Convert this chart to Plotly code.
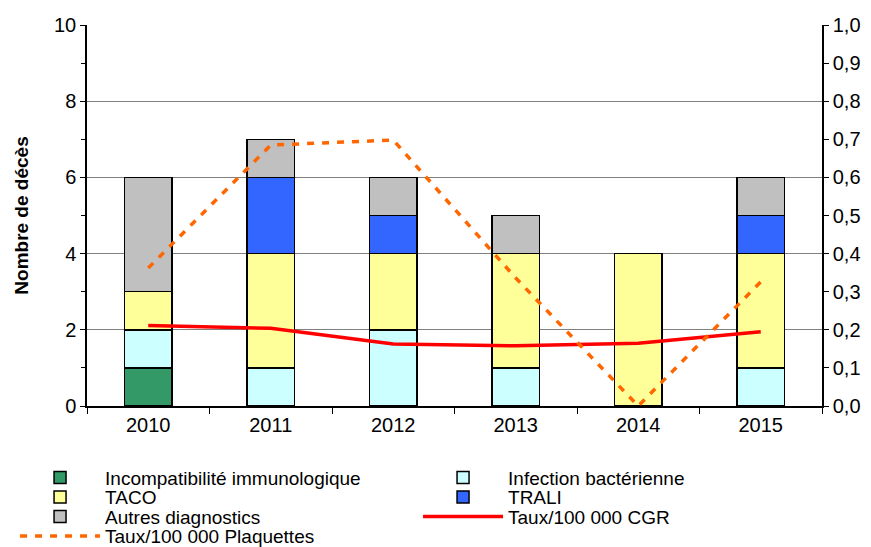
import plotly.graph_objects as go

years = ["2010", "2011", "2012", "2013", "2014", "2015"]
incompat = [1, 0, 0, 0, 0, 0]
infection = [1, 1, 2, 1, 0, 1]
taco = [1, 3, 2, 3, 4, 3]
trali = [0, 2, 1, 0, 0, 1]
autres = [3, 1, 1, 1, 0, 1]
taux_cgr = [0.211, 0.204, 0.163, 0.158, 0.165, 0.195]
taux_plaq = [0.362, 0.685, 0.698, 0.336, 0.0, 0.326]

FONT = "Liberation Sans, Arial, sans-serif"

fig = go.Figure()
bar_specs = [
    ("Incompatibilité immunologique", incompat, "#339966", "legend"),
    ("Infection bactérienne", infection, "#CCFFFF", "legend"),
    ("TACO", taco, "#FFFF99", "legend2"),
    ("TRALI", trali, "#3366FF", "legend2"),
    ("Autres diagnostics", autres, "#C0C0C0", "legend3"),
]
for name, vals, col, lg in bar_specs:
    fig.add_trace(go.Bar(
        x=years, y=vals, name=name, width=0.39,
        marker=dict(color=col, line=dict(color="black", width=1.5)),
        legend=lg,
    ))

fig.add_trace(go.Scatter(
    x=years, y=taux_cgr, name="Taux/100 000 CGR", yaxis="y2",
    mode="lines", line=dict(color="#FF0000", width=3.5), legend="legend3",
))
fig.add_trace(go.Scatter(
    x=years, y=taux_plaq, name="Taux/100 000 Plaquettes", yaxis="y2",
    mode="lines", line=dict(color="#FF6600", width=3.5, dash="7px,8px"), legend="legend4",
))

LEG_FONT = 19


def row_legend(ypos):
    return dict(
        x=-0.0979, xanchor="left", y=ypos, yanchor="top",
        orientation="h", traceorder="normal", itemwidth=80,
        entrywidth=308, entrywidthmode="pixels",
        font=dict(size=LEG_FONT), bgcolor="rgba(0,0,0,0)",
    )


# page body has an 8px margin: figure is drawn 8px right/down of the window origin
fig.update_layout(
    width=863, height=539,
    margin=dict(l=79, r=49, t=17, b=141, autoexpand=False),
    barmode="stack",
    plot_bgcolor="white", paper_bgcolor="white",
    separators=", ",
    font=dict(family=FONT, size=20, color="black"),
    xaxis=dict(
        type="category", range=[-0.5, 5.5],
        showline=True, linecolor="black", linewidth=1.5,
        ticks="outside", ticklen=6, tickcolor="black", tickson="boundaries",
        showgrid=False, tickfont=dict(size=20),
    ),
    yaxis=dict(
        range=[0, 10.001], tick0=0, dtick=2,
        showline=True, linecolor="black", linewidth=1.5,
        ticks="outside", ticklen=5, tickcolor="black",
        minor=dict(dtick=1, ticks="outside", ticklen=4, tickcolor="black", showgrid=False),
        showgrid=True, gridcolor="#808080", gridwidth=1,
        zeroline=False, tickfont=dict(size=20),
        title=dict(text="<b>Nombre de décès</b>", font=dict(size=19), standoff=20),
    ),
    yaxis2=dict(
        range=[0, 1.0001], tick0=0, dtick=0.1, tickformat=".1f",
        overlaying="y", side="right",
        showline=True, linecolor="black", linewidth=1.5,
        ticks="outside", ticklen=5, tickcolor="black",
        showgrid=False, zeroline=False, tickfont=dict(size=20),
    ),
    legend=row_legend(-0.1382),
    legend2=row_legend(-0.1894),
    legend3=row_legend(-0.2406),
    legend4=row_legend(-0.2917),
)

fig.write_html("out.html")
